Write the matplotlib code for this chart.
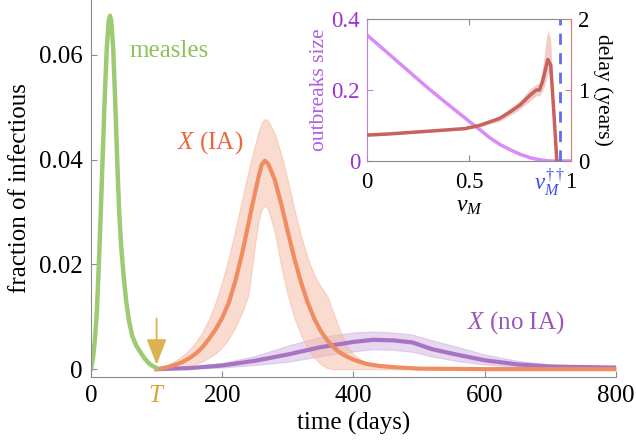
import numpy as np
import matplotlib
matplotlib.use('Agg')
import matplotlib.pyplot as plt

plt.rcParams['font.family'] = ['Liberation Serif', 'DejaVu Serif']
plt.rcParams['mathtext.fontset'] = 'custom'
plt.rcParams['mathtext.it'] = 'Liberation Serif:italic'
plt.rcParams['mathtext.rm'] = 'Liberation Serif'

# Measles curve (days, fraction infectious)
t_measles = [0, 3, 6, 9, 12, 15, 18, 21, 24, 27, 29, 31, 34, 37, 40, 43, 46, 50,
             54, 58, 63, 69, 75, 82, 90, 100]
measles = [0, 0.002, 0.0055, 0.011, 0.02, 0.03, 0.041, 0.052, 0.061, 0.0665, 0.0675,
           0.0665, 0.061, 0.051, 0.04, 0.03, 0.0235, 0.0175, 0.0126, 0.0092, 0.0063,
           0.0045, 0.0033, 0.002, 0.0009, 0.0002]

# Pathogen X with immune amnesia (IA): mean and band
t_ia = [100, 110, 120, 130, 140, 150, 160, 170, 180, 190, 200, 210, 220, 230, 240,
        245, 250, 255, 260, 265, 270, 280, 290, 300, 310, 320, 330, 340, 350, 360,
        370, 380, 390, 400, 420, 440, 470, 500, 600, 700, 800]
x_ia = [0, 0.0002, 0.0005, 0.0009, 0.0014, 0.0021, 0.003, 0.0042, 0.0058, 0.0076,
        0.0098, 0.0127, 0.0168, 0.0219, 0.0278, 0.0308, 0.0337, 0.0365, 0.039, 0.0398,
        0.0392, 0.0362, 0.0315, 0.0262, 0.0211, 0.0166, 0.0128, 0.0097, 0.0073,
        0.0055, 0.0041, 0.0031, 0.0024, 0.0018, 0.001, 0.0006, 0.0003, 0.0001, 0, 0, 0]
x_ia_hi = [0, 0.0004, 0.001, 0.0017, 0.0026, 0.0037, 0.0052, 0.0071, 0.0096, 0.0128,
           0.0167, 0.0213, 0.0266, 0.0322, 0.0378, 0.0404, 0.0428, 0.0452, 0.047,
           0.0478, 0.0474, 0.045, 0.041, 0.036, 0.0305, 0.0255, 0.0212, 0.018, 0.0158,
           0.014, 0.0105, 0.0072, 0.0045, 0.0028, 0.001, 0.0005, 0.0002, 0.0001, 0, 0, 0]
x_ia_lo = [0, 0.0001, 0.0002, 0.0003, 0.0005, 0.0007, 0.001, 0.0015, 0.0022, 0.003,
           0.0042, 0.0058, 0.008, 0.0107, 0.0142, 0.019, 0.0238, 0.028, 0.0305,
           0.0313, 0.0305, 0.0262, 0.0196, 0.014, 0.0098, 0.0065, 0.004, 0.0022,
           0.001, 0.0002, 0, 0, 0, 0, 0, 0, 0, 0, 0, 0, 0]

# Pathogen X without immune amnesia
t_noia = [100, 150, 200, 250, 300, 350, 400, 430, 460, 490, 520, 560, 600, 650, 700,
          750, 800]
x_noia = [0, 0.0002, 0.0007, 0.0016, 0.0028, 0.0042, 0.0052, 0.0056, 0.0055, 0.0051,
          0.0038, 0.0027, 0.0017, 0.0009, 0.0005, 0.0004, 0.0003]
x_noia_hi = [0, 0.0004, 0.0012, 0.0025, 0.0045, 0.0062, 0.007, 0.0072, 0.007, 0.0066,
             0.0055, 0.0042, 0.0028, 0.0016, 0.0009, 0.0006, 0.0005]
x_noia_lo = [0, 0.0001, 0.0003, 0.0008, 0.0014, 0.0025, 0.0034, 0.0038, 0.0037, 0.0033,
             0.0024, 0.0015, 0.0009, 0.0004, 0.0002, 0.0002, 0.0001]

T_intro = 100

# Inset: outbreak size vs measles vaccination
v_size = [0, 0.1, 0.2, 0.3, 0.4, 0.5, 0.56, 0.6, 0.65, 0.7, 0.75, 0.8, 0.85, 0.9, 1.0]
size = [0.355, 0.305, 0.255, 0.205, 0.158, 0.112, 0.085, 0.066, 0.047, 0.032, 0.019,
        0.009, 0.003, 0.0, 0.0]

# Inset: delay (years) vs measles vaccination
v_delay = [0, 0.1, 0.2, 0.3, 0.4, 0.48, 0.55, 0.6, 0.65, 0.7, 0.75, 0.8, 0.83, 0.845,
           0.86, 0.875, 0.886, 0.9, 0.915, 0.93]
delay = [0.365, 0.38, 0.40, 0.42, 0.44, 0.457, 0.5, 0.55, 0.6, 0.69, 0.79, 0.93, 1.0,
         1.0, 1.12, 1.3, 1.43, 1.35, 0.7, 0.0]
delay_hi = [0.38, 0.395, 0.415, 0.435, 0.455, 0.475, 0.525, 0.58, 0.64, 0.74, 0.85,
            1.02, 1.08, 1.1, 1.3, 1.65, 1.85, 1.7, 0.8, 0.0]
delay_lo = [0.35, 0.365, 0.385, 0.405, 0.425, 0.44, 0.475, 0.52, 0.56, 0.64, 0.73,
            0.85, 0.92, 0.92, 0.98, 1.1, 1.25, 1.15, 0.6, 0.0]
v_threshold = 0.946

grey = '#8a8a8a'
green = '#9dcb72'
orange = '#ef8c62'
purple = '#a774c4'
FS = 18

fig = plt.figure(figsize=(6.36, 4.47), dpi=100)
ax = fig.add_axes([0.143, 0.1566, 0.8256, 0.8434])

ax.fill_between(t_noia, x_noia_lo, x_noia_hi, color='#caa8dd', alpha=0.45, lw=0.8,
                edgecolor='#c9a5dc')
ax.fill_between(t_ia, x_ia_lo, x_ia_hi, color='#f6b9a0', alpha=0.5, lw=0.8,
                edgecolor='#f3b197')
ax.plot(t_noia, x_noia, color=purple, lw=3)
ax.plot(t_ia, x_ia, color=orange, lw=3)
ax.plot(t_measles, measles, color=green, lw=3.2)

ax.annotate('', xy=(T_intro, 0.0003), xytext=(T_intro, 0.0102),
            arrowprops=dict(arrowstyle='-|>,head_width=0.62,head_length=1.6',
                            color='#dcb152', lw=1.3))

ax.text(59, 0.0607, 'measles', color='#8cc257', fontsize=FS, va='center')
ax.text(131, 0.0433, r'$X$ (IA)', color='#e8683c', fontsize=FS, va='center')
ax.text(573, 0.0088, r'$X$ (no IA)', color='#9c55b8', fontsize=FS, va='center')

ax.set_xlim(0, 800)
ax.set_ylim(-0.0015, 0.0705)
ax.set_xticks([0, T_intro, 200, 400, 600, 800])
ax.set_xticklabels(['0', r'$T$', '200', '400', '600', '800'])
ax.get_xticklabels()[1].set_color('#d9a43a')
for i in (0, 1):
    ax.xaxis.get_major_ticks()[i].tick1line.set_visible(False)
ax.set_yticks([0, 0.02, 0.04, 0.06])
ax.set_yticklabels(['0', '0.02', '0.04', '0.06'])
ax.tick_params(direction='in', length=4, color=grey, labelsize=FS, pad=6)
for s in ['top', 'right']:
    ax.spines[s].set_visible(False)
for s in ['left', 'bottom']:
    ax.spines[s].set_color(grey)
ax.set_xlabel('time (days)', fontsize=FS, labelpad=3)
ax.set_ylabel('fraction of infectious', fontsize=FS, labelpad=6)

# inset
ins = fig.add_axes([0.577, 0.6398, 0.321, 0.3177])
ins.set_facecolor('white')
ins.plot(v_size, size, color='#d88cf8', lw=2.5)
ins.set_xlim(0, 1)
ins.set_ylim(0, 0.4)
ins.set_xticks([0, 0.5, 1])
ins.set_xticklabels(['0', '0.5', '1'])
ins.set_yticks([0, 0.2, 0.4])
ins.set_yticklabels(['0', '0.2', '0.4'], color='#9a33d6')
ins.tick_params(direction='in', length=4, labelsize=16.5, pad=5, top=True)
ins.tick_params(axis='y', colors='#c07ee8', labelcolor='#9a33d6')
ins.tick_params(axis='x', colors=grey, labelcolor='black', pad=8)
ins.set_ylabel('outbreaks size', color='#b05ee6', fontsize=15.5, labelpad=2)
ins.set_xlabel(r'$v_M$', fontsize=17, labelpad=2)
ins.axvline(v_threshold, color='#5d6ef5', lw=2, ls=(0, (4, 3)))
ins.text(0.895, -0.04, r'$v_M^{\dagger\dagger}$', color='#3a4ef0', fontsize=16.5,
         ha='center', va='top', transform=ins.get_xaxis_transform())
ins.spines['left'].set_color('#c07ee8')
ins.spines['top'].set_color(grey)
ins.spines['bottom'].set_color(grey)
ins.spines['right'].set_color('#d88080')

ins2 = ins.twinx()
ins2.fill_between(v_delay, delay_lo, delay_hi, color='#e8aca2', alpha=0.6, lw=0)
ins2.plot(v_delay, delay, color='#c8625e', lw=2.5)
ins2.set_ylim(0, 2)
ins2.set_yticks([0, 1, 2])
ins2.set_yticklabels(['0', '1', '2'])
ins2.tick_params(direction='in', length=4, labelsize=16.5, pad=5, colors='#d88080',
                 labelcolor='black')
ins2.set_ylabel('delay (years)', fontsize=15.5, rotation=270, labelpad=17)
for s in ['left', 'top', 'bottom']:
    ins2.spines[s].set_visible(False)
ins2.spines['right'].set_color('#d88080')

fig.savefig('out.png', dpi=100)
